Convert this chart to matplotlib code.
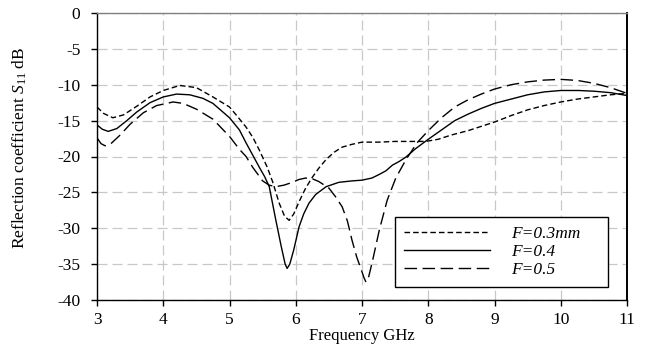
import matplotlib
matplotlib.use("Agg")
import matplotlib.pyplot as plt

plt.rcParams['font.family'] = ['Liberation Serif', 'DejaVu Serif']
plt.rcParams['mathtext.fontset'] = 'custom'
plt.rcParams['mathtext.rm'] = 'Liberation Serif'
plt.rcParams['mathtext.it'] = 'Liberation Serif:italic'

# ---- data ----
labels = ['F=0.3mm', 'F=0.4', 'F=0.5']

x_03 = [3.0, 3.1, 3.24, 3.4, 3.6, 3.8, 4.0, 4.25, 4.5, 4.75, 5.0, 5.1, 5.25, 5.35,
        5.45, 5.57, 5.65, 5.75, 5.83, 5.9, 5.97, 6.05, 6.15, 6.25, 6.35, 6.46, 6.58,
        6.7, 6.85, 7.0, 7.25, 7.5, 7.75, 7.96, 8.15, 8.35, 8.6, 9.0, 9.25, 9.5, 9.75,
        10.0, 10.25, 10.5, 10.75, 11.0]
y_03 = [-13.1, -14.0, -14.6, -14.2, -13.0, -11.7, -10.8, -10.1, -10.4, -11.7, -13.1,
        -14.2, -15.9, -17.3, -19.1, -21.5, -23.5, -26.5, -28.3, -28.9, -28.0, -26.3,
        -24.4, -22.9, -21.6, -20.4, -19.4, -18.7, -18.3, -18.0, -18.0, -17.9, -17.9,
        -17.9, -17.6, -17.0, -16.4, -15.2, -14.3, -13.5, -12.9, -12.4, -12.0, -11.7,
        -11.4, -11.2]

x_04 = [3.0, 3.08, 3.17, 3.3, 3.45, 3.6, 3.8, 4.0, 4.2, 4.4, 4.6, 4.75, 5.0, 5.15,
        5.25, 5.35, 5.45, 5.53, 5.6, 5.7, 5.78, 5.84, 5.87, 5.91, 5.97, 6.05, 6.12,
        6.2, 6.3, 6.46, 6.65, 6.85, 7.0, 7.15, 7.26, 7.36, 7.46, 7.56, 7.66, 7.81,
        8.0, 8.2, 8.4, 8.6, 8.8, 9.0, 9.25, 9.5, 9.75, 10.0, 10.27, 10.5, 10.75, 11.0]
y_04 = [-15.6, -16.2, -16.5, -16.1, -15.0, -13.8, -12.5, -11.7, -11.3, -11.4, -11.9,
        -12.6, -14.6, -16.3, -18.1, -19.8, -21.5, -22.8, -24.2, -28.9, -32.5, -35.0,
        -35.6, -35.0, -33.0, -29.8, -28.0, -26.5, -25.3, -24.2, -23.6, -23.4, -23.3,
        -23.0, -22.5, -22.0, -21.2, -20.7, -20.1, -18.9, -17.6, -16.3, -15.0, -14.1,
        -13.3, -12.6, -12.0, -11.4, -11.0, -10.8, -10.8, -10.9, -11.1, -11.5]

x_05 = [3.0, 3.06, 3.12, 3.2, 3.35, 3.5, 3.7, 3.9, 4.15, 4.3, 4.5, 4.75, 5.0, 5.15,
        5.25, 5.35, 5.5, 5.6, 5.7, 5.82, 5.95, 6.05, 6.15, 6.25, 6.35, 6.5, 6.6, 6.7,
        6.78, 6.85, 6.92, 6.99, 7.03, 7.06, 7.1, 7.16, 7.26, 7.38, 7.51, 7.66, 7.83,
        8.0, 8.2, 8.4, 8.6, 8.8, 9.0, 9.25, 9.5, 9.75, 10.0, 10.25, 10.5, 10.75, 11.0]
y_05 = [-17.4, -18.2, -18.5, -18.3, -17.0, -15.5, -13.9, -12.9, -12.4, -12.6, -13.4,
        -14.8, -17.2, -19.0, -20.0, -21.5, -23.4, -24.0, -24.2, -24.0, -23.6, -23.2,
        -23.0, -23.1, -23.5, -24.4, -25.6, -27.0, -29.0, -31.7, -34.0, -35.8, -36.9,
        -37.5, -36.8, -34.5, -30.3, -26.1, -23.0, -20.5, -18.1, -16.4, -14.6, -13.1,
        -12.1, -11.3, -10.6, -10.0, -9.6, -9.35, -9.25, -9.4, -9.8, -10.4, -11.2]

x_ticks = [3, 4, 5, 6, 7, 8, 9, 10, 11]
y_ticks = [0, -5, -10, -15, -20, -25, -30, -35, -40]

# ---- figure ----
fig = plt.figure(figsize=(6.51, 3.54), dpi=100)
ax = fig.add_axes([97 / 651, 54 / 354, 530 / 651, 287 / 354])

ax.plot(x_03, y_03, color='black', lw=1.0, dashes=(4, 2.2), label=labels[0])
ax.plot(x_04, y_04, color='black', lw=1.0, label=labels[1])
ax.plot(x_05, y_05, color='black', lw=1.0, dashes=(9, 4), label=labels[2])

ax.set_xlim(3, 11)
ax.set_ylim(-40, 0)
ax.set_xticks(x_ticks)
ax.set_yticks(y_ticks)
ax.set_xticklabels([str(v) for v in x_ticks])
ax.set_yticklabels([str(v) for v in y_ticks])

ax.grid(True, color='#c8c8c8', lw=0.9, dashes=(8, 4))
ax.set_axisbelow(True)

for s in ['left', 'bottom']:
    ax.spines[s].set_color('black')
    ax.spines[s].set_linewidth(1.0)
ax.spines['right'].set_color('black')
ax.spines['right'].set_linewidth(1.4)
ax.spines['top'].set_color('#808080')
ax.spines['top'].set_linewidth(1.0)

ax.tick_params(axis='both', direction='out', length=4, width=1.0, labelsize=12.5,
               colors='black')
ax.tick_params(axis='y', pad=8)
ax.tick_params(axis='x', pad=5)
ax.tick_params(top=False, right=False)

ax.set_xlabel('Frequency GHz', fontsize=12, labelpad=0)
ax.set_ylabel(r'Reflection coefficient $\mathit{S}_{\mathit{11}}$ dB', fontsize=12.5)
ax.yaxis.set_label_coords(-0.128, 0.53)

leg = ax.legend(loc='lower left',
                bbox_to_anchor=(0.562, 0.045, 0.402, 0.262),
                mode='expand', frameon=True, fancybox=False, framealpha=1,
                edgecolor='black', prop={'family': 'Liberation Serif',
                                         'style': 'italic', 'size': 12.5},
                handlelength=5.0, handletextpad=1.2, borderpad=0.5,
                labelspacing=0.12, borderaxespad=0)
leg.get_frame().set_linewidth(1.0)

fig.savefig('out.png', dpi=100)
